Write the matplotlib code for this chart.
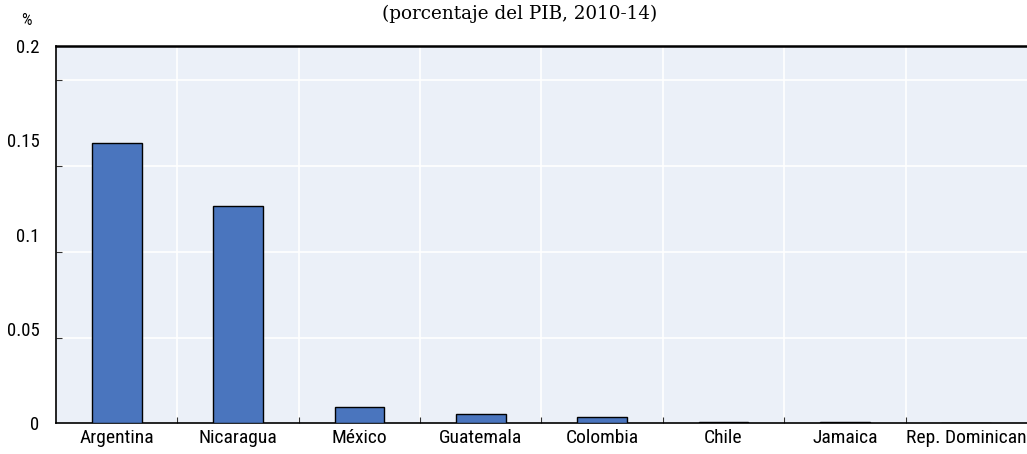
import matplotlib
matplotlib.use('Agg')
import matplotlib.pyplot as plt
import numpy as np

# Datos
paises = ['Argentina', 'Nicaragua', 'México', 'Guatemala', 'Colombia',
          'Chile', 'Jamaica', 'Rep. Dominican']
valores = [0.1485, 0.1151, 0.0088, 0.0050, 0.0035, 0.0007, 0.0005, 0.0004]
yticks = [0, 0.05, 0.1, 0.15, 0.2]
ygrid = [0.0454, 0.0908, 0.1362, 0.1816]

fuente = ['Roboto Condensed', 'DejaVu Sans']

fig = plt.figure(figsize=(10.27, 4.54), dpi=100)
ax = fig.add_axes([0.0545, 0.0676, 0.9455, 0.8317])
ax.set_facecolor('#EBF0F8')

x = np.arange(len(paises))
ax.bar(x, valores, width=0.41, color='#4A75BE', edgecolor='black',
       linewidth=1.0, zorder=3)

ax.set_xlim(-0.5, len(paises) - 0.5)
ax.set_ylim(0, 0.2)

# Ticks mayores: etiquetas sin marca
ax.set_yticks(yticks)
ax.set_yticklabels(['0', '0.05', '0.1', '0.15', '0.2'], fontfamily=fuente,
                   fontstretch='condensed', fontsize=13.5)
ax.tick_params(axis='y', which='major', length=0, pad=12)
ax.set_yticks(ygrid, minor=True)
ax.tick_params(axis='y', which='minor', length=4, width=0.8, direction='in',
               color='#333333')
ax.grid(axis='y', which='minor', color='white', linewidth=1.2, zorder=1)

ax.set_xticks(x)
ax.set_xticklabels(paises, fontfamily=fuente, fontstretch='condensed',
                   fontsize=14)
ax.tick_params(axis='x', which='major', length=0, pad=4)
ax.set_xticks(np.arange(0.5, len(paises) - 0.5, 1), minor=True)
ax.tick_params(axis='x', which='minor', length=4, width=0.8, direction='in',
               color='#333333')
ax.grid(axis='x', which='minor', color='white', linewidth=1.2, zorder=1)

for s in ['left', 'bottom']:
    ax.spines[s].set_linewidth(1.2)
    ax.spines[s].set_color('black')
ax.spines['top'].set_linewidth(1.8)
ax.spines['top'].set_color('black')
ax.spines['right'].set_visible(False)
ax.set_axisbelow(True)

fig.text(0.026, 0.955, '%', fontfamily=fuente, fontstretch='condensed',
         fontsize=12, ha='center', va='center')
fig.text(0.506, 0.969, '(porcentaje del PIB, 2010-14)',
         fontfamily=['DejaVu Serif'], fontsize=13.2,
         ha='center', va='center')

fig.savefig('out.png', dpi=100, facecolor='white')
